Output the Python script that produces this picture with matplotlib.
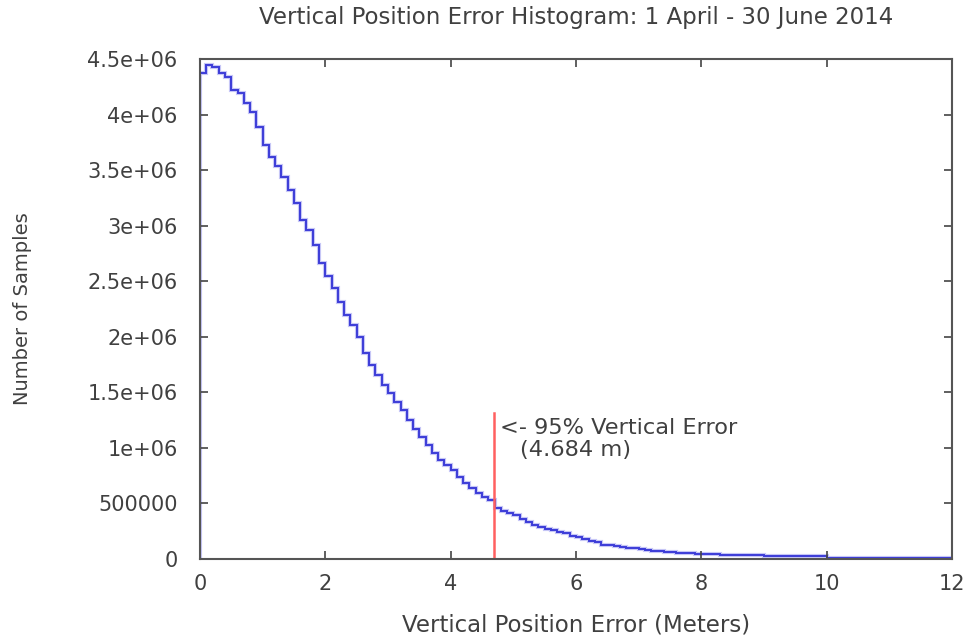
import numpy as np
import matplotlib
matplotlib.use("Agg")
import matplotlib.pyplot as plt

plt.rcParams['font.family'] = ['DejaVu Sans']

# histogram: 0.1 m bins, counts in millions of samples
bin_width = 0.1
counts_m = [
    4.37, 4.45, 4.43, 4.37, 4.34, 4.22, 4.19, 4.10, 4.02, 3.89,
    3.73, 3.62, 3.54, 3.44, 3.32, 3.20, 3.05, 2.96, 2.83, 2.66,
    2.55, 2.44, 2.31, 2.20, 2.11, 2.00, 1.85, 1.75, 1.66, 1.57,
    1.49, 1.41, 1.34, 1.25, 1.17, 1.10, 1.03, 0.95, 0.89, 0.85,
    0.80, 0.74, 0.68, 0.64, 0.59, 0.56, 0.53, 0.46, 0.43, 0.41,
    0.40, 0.36, 0.33, 0.31, 0.29, 0.27, 0.26, 0.24, 0.23, 0.21,
    0.20, 0.18, 0.16, 0.15, 0.13, 0.125, 0.12, 0.11, 0.10, 0.095,
    0.09, 0.08, 0.075, 0.07, 0.065, 0.06, 0.057, 0.054, 0.05, 0.048,
    0.045, 0.045, 0.042, 0.035, 0.035, 0.035, 0.035, 0.035, 0.035, 0.035,
    0.027, 0.027, 0.027, 0.027, 0.027, 0.027, 0.027, 0.027, 0.027, 0.027,
    0.01, 0.01, 0.01, 0.01, 0.01, 0.01, 0.01, 0.01, 0.01, 0.01,
    0.01, 0.01, 0.01, 0.01, 0.01, 0.01, 0.01, 0.01, 0.01, 0.01,
]
err95 = 4.684
err95_top = 1.31e6
ylabels = ['0', '500000', '1e+06', '1.5e+06', '2e+06', '2.5e+06', '3e+06',
           '3.5e+06', '4e+06', '4.5e+06']

counts = np.array(counts_m) * 1e6
edges = np.arange(len(counts) + 1) * bin_width

fig = plt.figure(figsize=(9.74, 6.39), dpi=100)
ax = fig.add_axes([0.2053, 0.1252, 0.7721, 0.7825])

# soft halo under the line, like the anti-aliased original
ax.stairs(counts, edges, color='#a0a0f0', lw=3.0, alpha=0.6)
ax.stairs(counts, edges, color='#3c3cd8', lw=1.4)
ax.plot([err95, err95], [0, err95_top], color='#ff6060', lw=1.8)

tc = '#404040'
ax.text(4.787, 1.18e6, '<- 95% Vertical Error', fontsize=16.2, color=tc, va='center')
ax.text(5.106, 0.98e6, '(4.684 m)', fontsize=16.2, color=tc, va='center')

ax.set_xlim(0, 12)
ax.set_ylim(0, 4.5e6)
ax.set_xticks(np.arange(0, 13, 2))
ax.set_yticks(np.arange(0, 4.51e6, 5e5))
ax.set_yticklabels(ylabels)
ax.tick_params(direction='in', top=True, right=True, length=6, width=1.2,
               labelsize=15, colors='#444444', labelcolor=tc)
ax.tick_params(axis='y', pad=16)
ax.tick_params(axis='x', pad=11)
for s in ax.spines.values():
    s.set_color('#555555')
    s.set_linewidth(1.5)

ax.set_title('Vertical Position Error Histogram: 1 April - 30 June 2014',
             fontsize=16.5, color=tc, pad=25)
ax.set_xlabel('Vertical Position Error (Meters)', fontsize=16.5, color=tc, labelpad=14)
ax.set_ylabel('Number of Samples', fontsize=14, color=tc, labelpad=40)

fig.savefig('out.png', dpi=100)
